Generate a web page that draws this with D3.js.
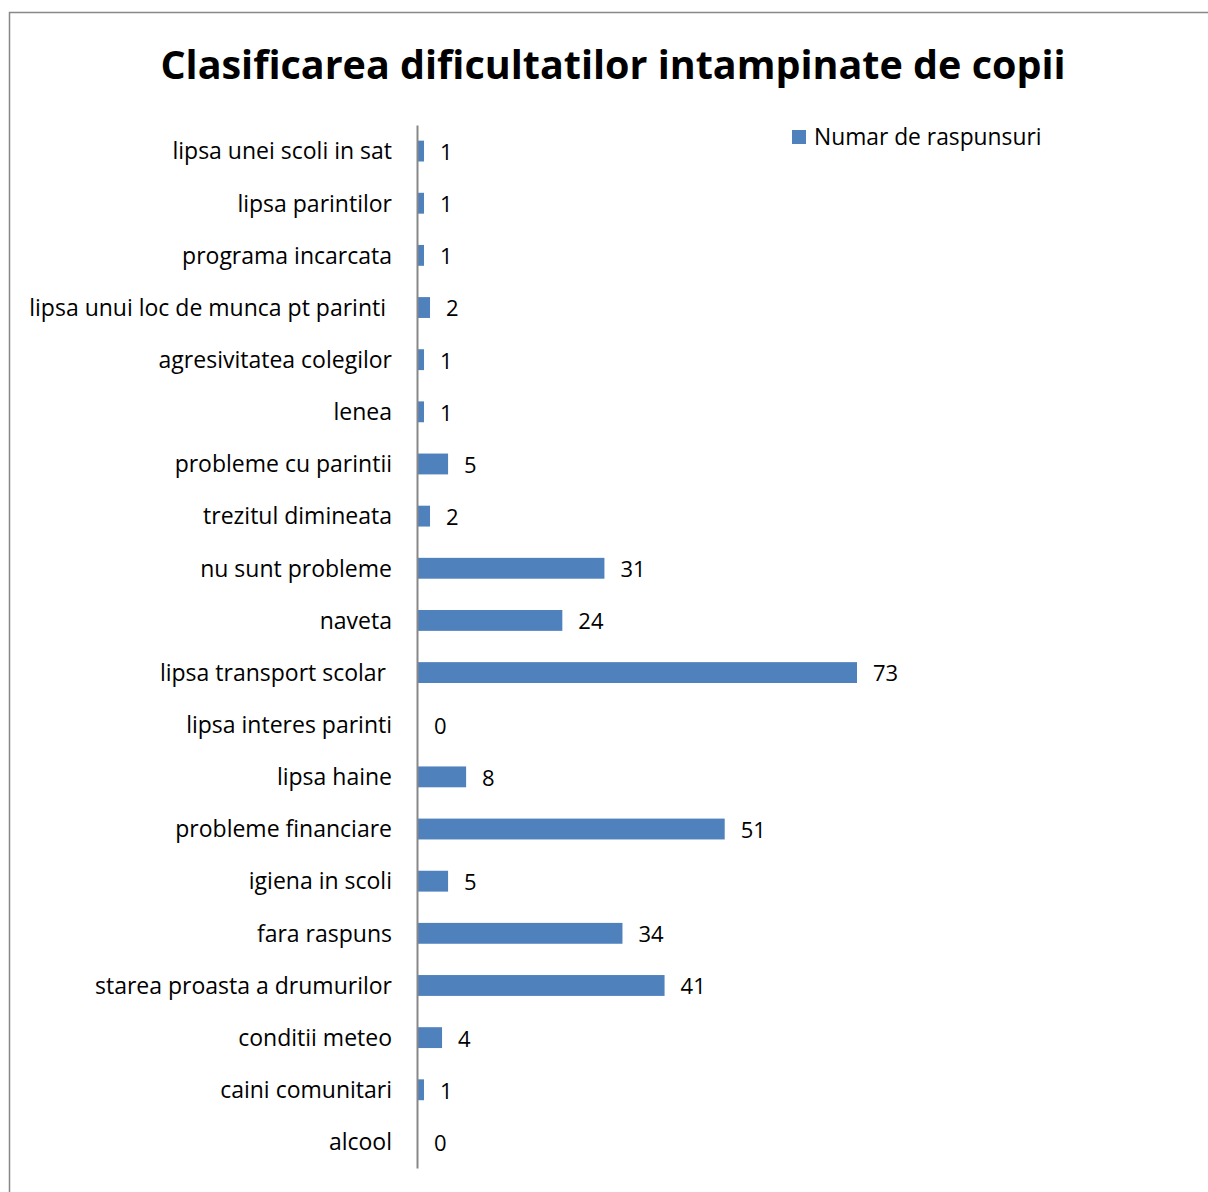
<!DOCTYPE html>
<html>
<head>
<meta charset="utf-8">
<script src="https://cdn.jsdelivr.net/npm/d3@7"></script>
<style>
body { margin: 0; background: #fff; }
text { font-family: "Open Sans", sans-serif; fill: #000; }
</style>
</head>
<body>
<script>
// chart data, top to bottom
var categories = ["lipsa unei scoli in sat", "lipsa parintilor", "programa incarcata",
    "lipsa unui loc de munca pt parinti ", "agresivitatea colegilor", "lenea",
    "probleme cu parintii", "trezitul dimineata", "nu sunt probleme", "naveta",
    "lipsa transport scolar ", "lipsa interes parinti", "lipsa haine",
    "probleme financiare", "igiena in scoli", "fara raspuns",
    "starea proasta a drumurilor", "conditii meteo", "caini comunitari", "alcool"];
var values = [1, 1, 1, 2, 1, 1, 5, 2, 31, 24, 73, 0, 8, 51, 5, 34, 41, 4, 1, 0];
var seriesName = "Numar de raspunsuri";
var title = "Clasificarea dificultatilor intampinate de copii";

var W = 1208, H = 1192;
var svg = d3.select("body").append("svg").attr("width", W).attr("height", H);

// outer frame
svg.append("rect")
    .attr("x", 9.5).attr("y", 12.5)
    .attr("width", W + 10).attr("height", H + 10)
    .attr("fill", "none").attr("stroke", "#888").attr("stroke-width", 1.5);

svg.append("text")
    .attr("x", 613).attr("y", 79)
    .attr("text-anchor", "middle")
    .style("font-size", "39.5px").style("font-weight", "bold")
    .text(title);

var plotLeft = 418, plotTop = 125, plotBottom = 1168;
var x = d3.scaleLinear().domain([0, 73]).range([plotLeft, 857]);
var y = d3.scaleBand().domain(categories).range([plotTop, plotBottom]).paddingInner(0.6).paddingOuter(0.3);

var g = svg.append("g");

g.selectAll(".bar").data(values).enter().append("rect")
    .attr("class", "bar")
    .attr("x", x(0))
    .attr("y", function (d, i) { return y(categories[i]); })
    .attr("width", function (d) { return x(d) - x(0); })
    .attr("height", y.bandwidth())
    .attr("fill", "#4f81bd");

g.selectAll(".val").data(values).enter().append("text")
    .attr("class", "val")
    .attr("x", function (d) { return x(d) + 16; })
    .attr("y", function (d, i) { return y(categories[i]) + y.bandwidth() / 2 + 1; })
    .attr("dy", "0.36em")
    .style("font-size", "22px")
    .text(function (d) { return d; });

// category axis
var yAxis = d3.axisLeft(y).tickSize(0).tickPadding(25);
var ax = svg.append("g").attr("transform", "translate(" + (plotLeft - 1) + ",0)").call(yAxis);
ax.select(".domain").attr("stroke", "#888").attr("stroke-width", 2);
ax.selectAll("text")
    .style("font-size", "23px")
    .style("font-family", "'Open Sans', sans-serif")
    .attr("fill", "#000")
    .attr("dy", "0.36em")
    .attr("xml:space", "preserve");

// legend
var legend = svg.append("g").attr("transform", "translate(792,130)");
legend.append("rect").attr("width", 14).attr("height", 14).attr("fill", "#4f81bd");
legend.append("text").attr("x", 22).attr("y", 7).attr("dy", "0.36em")
    .style("font-size", "22.8px").text(seriesName);
</script>
</body>
</html>
